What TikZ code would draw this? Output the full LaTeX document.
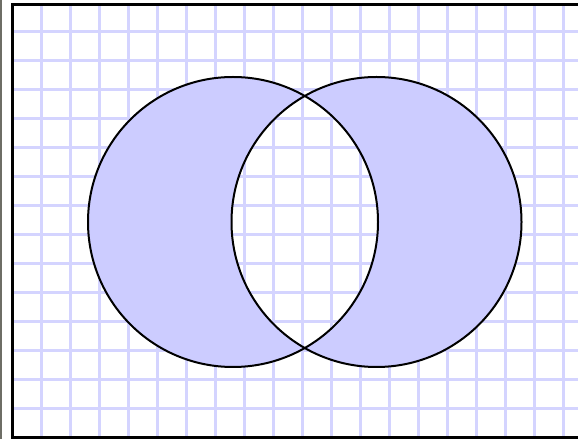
\documentclass[tikz,border=0pt]{standalone}
\definecolor{gridblue}{HTML}{D4D4FF}
\definecolor{setblue}{HTML}{CCCCFF}
\definecolor{edgegray}{HTML}{6E6E66}
\begin{document}
\begin{tikzpicture}[x=0.5pt, y=0.5pt]
  % 枠
  \useasboundingbox (0,0) rectangle (578,439);
  \fill[white] (0,0) rectangle (578,439);
  \fill[edgegray] (0,0) rectangle (2,439);

  % 方眼
  \foreach \x in {41.5,70.5,...,578}
    \draw[gridblue, line width=1.5pt] (\x,1.5) -- (\x,434.5);
  \foreach \y in {1.5,30.5,...,434.5}
    \draw[gridblue, line width=1.5pt] (12.5,\y) -- (578,\y);

  % 円の中心
  \coordinate (A) at (233,217);
  \coordinate (B) at (376.5,217);

  % 対称差
  \fill[setblue, even odd rule] (A) circle (145) (B) circle (145);
  \draw[line width=1pt] (A) circle (145);
  \draw[line width=1pt] (B) circle (145);

  % 外枠
  \draw[line width=1.5pt] (578,434.5) -- (12.5,434.5) -- (12.5,1.5) -- (578,1.5);
\end{tikzpicture}
\end{document}
